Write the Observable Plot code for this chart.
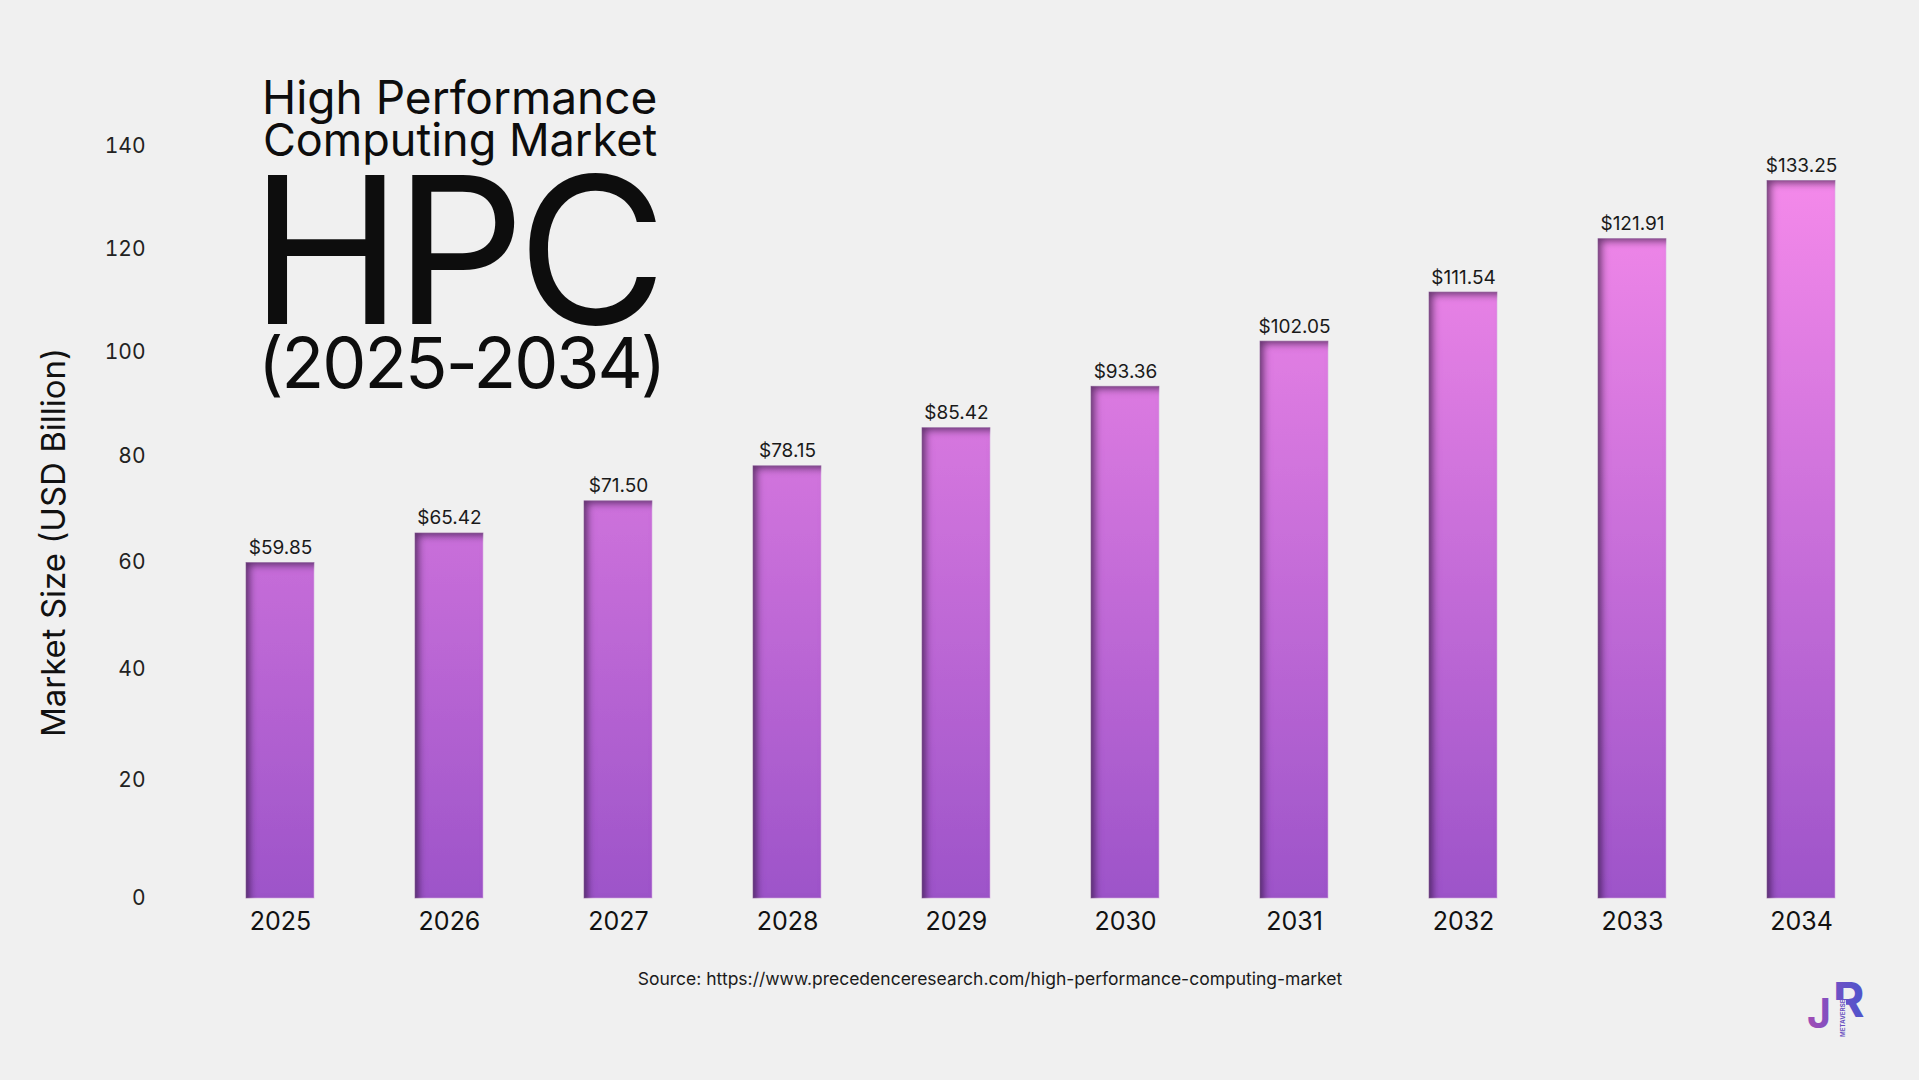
<!DOCTYPE html>
<html>
<head>
<meta charset="utf-8">
<script src="https://cdn.jsdelivr.net/npm/d3@7"></script>
<script src="https://cdn.jsdelivr.net/npm/@observablehq/plot@0.6"></script>
<style>
  html, body { margin: 0; padding: 0; background: #f0f0f0; }
  body { width: 1919px; height: 1080px; position: relative; overflow: hidden; font-family: Inter, "Noto Sans", sans-serif; color: #111; }
  #chart { position: absolute; left: 0; top: 0; }
  #title { position: absolute; left: 250px; top: 77px; color: #0d0d0d; white-space: nowrap; }
  #title span { display: block; }
  #source { position: absolute; left: 0; width: 1980px; top: 970px; text-align: center; font-size: 17.5px; line-height: 1; color: #1a1a1a; }
  #logo { position: absolute; left: 1790px; top: 955px; width: 100px; height: 100px; overflow: visible; }
</style>
</head>
<body>
<div id="chart"></div>
<div id="title"><span style="font-size:46px; line-height:40px; padding-left:12px;">High Performance</span><span style="font-size:45px; line-height:46px; padding-left:13px;">Computing Market</span><span style="font-size:205px; line-height:172px; letter-spacing:-8px;">HPC</span><span style="font-size:70px; line-height:56px; padding-left:8px; letter-spacing:-2px;">(2025-2034)</span></div>
<div id="source">Source: https://www.precedenceresearch.com/high-performance-computing-market</div>
<svg id="logo" viewBox="0 0 100 100">
  <defs>
    <linearGradient id="logoJ" x1="0" y1="0" x2="1" y2="0">
      <stop offset="0" stop-color="#a34cb3"/>
      <stop offset="1" stop-color="#7e4fc2"/>
    </linearGradient>
    <linearGradient id="logoR" x1="0" y1="0" x2="1" y2="0">
      <stop offset="0" stop-color="#7350c4"/>
      <stop offset="1" stop-color="#4d55cc"/>
    </linearGradient>
    <clipPath id="rclip">
      <path d="M0 0 H100 V100 H56 V45 H0 Z"/>
    </clipPath>
  </defs>
  <text x="17" y="73" font-family="Inter, sans-serif" font-weight="700" font-size="41" fill="url(#logoJ)">J</text>
  <text x="43" y="62" font-family="Inter, sans-serif" font-weight="700" font-size="48" fill="url(#logoR)" clip-path="url(#rclip)">R</text>
  <text transform="translate(55,82) rotate(-90)" font-family="Inter, sans-serif" font-weight="700" font-size="6.2" fill="#6a50c0">METAVERSE</text>
</svg>
<script>
const years = ["2025","2026","2027","2028","2029","2030","2031","2032","2033","2034"];
const values = [59.85, 65.42, 71.50, 78.15, 85.42, 93.36, 102.05, 111.54, 121.91, 133.25];
const yTicks = [0, 20, 40, 60, 80, 100, 120, 140];
const yLabel = "Market Size (USD Billion)";

const data = years.map((year, i) => ({year, value: values[i]}));

const chart = Plot.plot({
  width: 1919,
  height: 1080,
  marginLeft: 193,
  marginRight: 31,
  marginTop: 146,
  marginBottom: 182,
  style: { background: "transparent", fontFamily: "Inter, sans-serif", color: "#1a1a1a" },
  x: { domain: years, paddingInner: 0.6, paddingOuter: 0.3 },
  y: { type: "pow", exponent: 0.95, domain: [0, 140] },
  marks: [
    Plot.barY(data, { x: "year", y: "value", fill: "url(#barGrad)", className: "hpcbars" }),
    Plot.text(data, {
      x: "year", y: "value",
      text: d => "$" + d.value.toFixed(2),
      dy: -9, lineAnchor: "bottom", fontSize: 19, fill: "#1a1a1a"
    }),
    Plot.axisX({ tickSize: 0, tickPadding: 14, fontSize: 25, label: null, fill: "#111" }),
    Plot.axisY({
      ticks: yTicks, tickSize: 0, tickPadding: 48, fontSize: 21, fill: "#222",
      label: yLabel, labelAnchor: "center", labelArrow: "none", labelOffset: 152
    })
  ]
});

document.getElementById("chart").appendChild(chart);

const ys = chart.scale("y");
const svg = d3.select(chart);
const defs = svg.insert("defs", ":first-child");
const g = defs.append("linearGradient")
  .attr("id", "barGrad")
  .attr("gradientUnits", "userSpaceOnUse")
  .attr("x1", 0).attr("x2", 0)
  .attr("y1", ys.apply(values[values.length - 1]))
  .attr("y2", ys.apply(0));
g.append("stop").attr("offset", 0).attr("stop-color", "#f489ea");
g.append("stop").attr("offset", 1).attr("stop-color", "#9d54c9");

const f = defs.append("filter").attr("id", "inset")
  .attr("x", "-20%").attr("y", "-5%").attr("width", "140%").attr("height", "110%");
f.append("feComponentTransfer").attr("in", "SourceAlpha").attr("result", "inv")
  .append("feFuncA").attr("type", "table").attr("tableValues", "1 0");
f.append("feGaussianBlur").attr("in", "inv").attr("stdDeviation", 3.5).attr("result", "blur");
f.append("feOffset").attr("in", "blur").attr("dx", 5).attr("dy", 4).attr("result", "off");
f.append("feFlood").attr("flood-color", "#3b1a4d").attr("flood-opacity", 0.85).attr("result", "col");
f.append("feComposite").attr("in", "col").attr("in2", "off").attr("operator", "in").attr("result", "sh");
f.append("feComposite").attr("in", "sh").attr("in2", "SourceAlpha").attr("operator", "in").attr("result", "ish");
const m = f.append("feMerge");
m.append("feMergeNode").attr("in", "SourceGraphic");
m.append("feMergeNode").attr("in", "ish");

svg.selectAll(".hpcbars rect").attr("filter", "url(#inset)")
  .attr("stroke", "#e6b8ee").attr("stroke-width", 0.8).attr("stroke-opacity", 0.7);

svg.selectAll('g[aria-label="y-axis label"] text')
  .attr("font-size", 33).attr("fill", "#111").attr("dx", -20);
</script>
</body>
</html>
